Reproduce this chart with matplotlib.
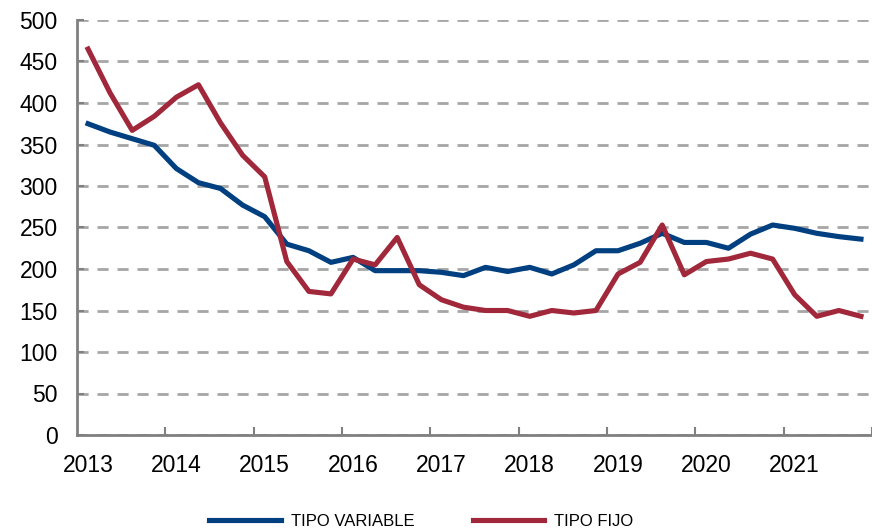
import matplotlib
matplotlib.use("Agg")
import matplotlib.pyplot as plt
import numpy as np

years = ["2013", "2014", "2015", "2016", "2017", "2018", "2019", "2020", "2021"]
tipo_variable = [375, 365, 357, 349, 321, 304, 297, 277, 263, 230, 222, 208, 214,
                 198, 198, 198, 196, 192, 202, 197, 202, 194, 205, 222, 222,
                 231, 243, 232, 232, 225, 242, 253, 249, 243, 239, 236]
tipo_fijo = [465, 412, 367, 384, 407, 422, 376, 337, 311, 209, 173, 170, 212,
             205, 238, 181, 163, 154, 150, 150, 143, 150, 147, 150, 194,
             208, 253, 193, 209, 212, 219, 212, 169, 143, 150, 143]
series_names = ["TIPO VARIABLE", "TIPO FIJO"]
colors = ["#004080", "#A0283A"]

plt.rcParams['font.family'] = ['Liberation Sans', 'DejaVu Sans']

fig = plt.figure(figsize=(8.72, 5.31), dpi=100)
ax = fig.add_axes([77/872, 96/531, 1 - 77/872, 415/531])

x = np.arange(len(tipo_variable))
ax.plot(x, tipo_variable, color=colors[0], lw=3.7, label=series_names[0])
ax.plot(x, tipo_fijo, color=colors[1], lw=3.7, label=series_names[1])

ax.set_ylim(0, 500)
ax.set_xlim(-0.5, len(x) - 0.5)
ax.set_yticks(np.arange(0, 501, 50))
ax.yaxis.grid(True, color="#A6A6A6", linestyle=(0, (4, 3.2)), linewidth=2)
ax.set_axisbelow(True)

ax.set_xticks(np.arange(0, len(x), 4))
ax.set_xticklabels(years)
ax.set_xticks(np.arange(3.5, len(x), 4), minor=True)
ax.tick_params(axis='x', which='major', length=0, pad=14, labelsize=16.5)
ax.tick_params(axis='x', which='minor', length=6, width=1.5, direction='in', color='#808080')
ax.tick_params(axis='y', length=5, width=1.5, direction='in', color='#808080', pad=14, labelsize=16.5)

for s in ['top', 'right']:
    ax.spines[s].set_visible(False)
for s in ['left', 'bottom']:
    ax.spines[s].set_color('#808080')
    ax.spines[s].set_linewidth(2)

leg = fig.legend(loc='center', bbox_to_anchor=(0.483, 0.018), ncol=2, frameon=False,
                 handlelength=4.3, columnspacing=3.5, handletextpad=0.6,
                 prop={'size': 12}, borderpad=0)

fig.savefig("out.png", dpi=100)
